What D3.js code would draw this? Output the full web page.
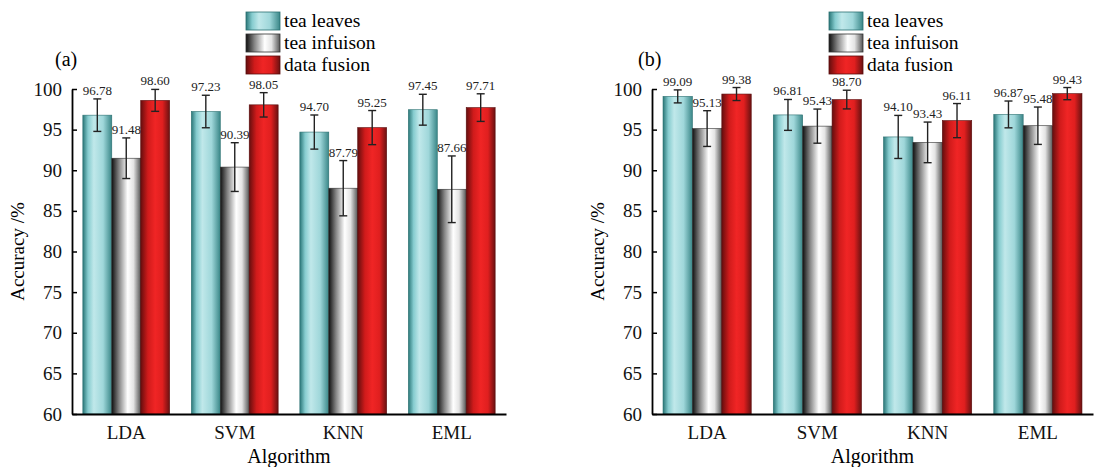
<!DOCTYPE html>
<html>
<head>
<meta charset="utf-8">
<script src="https://cdn.jsdelivr.net/npm/d3@7/dist/d3.min.js"></script>
<style>
  body { margin: 0; background: #fff; }
  svg text { font-family: 'Liberation Serif', 'DejaVu Serif', serif !important; }
</style>
</head>
<body>
<div id="chart"></div>
<script>
let algorithms = ['LDA', 'SVM', 'KNN', 'EML'];
let seriesNames = ['tea leaves', 'tea infuison', 'data fusion'];
let yTicks = [60, 65, 70, 75, 80, 85, 90, 95, 100];

// panel (a)
let aLeaves = [96.78, 97.23, 94.70, 97.45];
let aInfusion = [91.48, 90.39, 87.79, 87.66];
let aFusion = [98.60, 98.05, 95.25, 97.71];
let aLeavesErr = [2.0, 2.0, 2.1, 1.9];
let aInfusionErr = [2.5, 3.0, 3.4, 4.1];
let aFusionErr = [1.35, 1.5, 2.1, 1.7];

// panel (b)
let bLeaves = [99.09, 96.81, 94.10, 96.87];
let bInfusion = [95.13, 95.43, 93.43, 95.48];
let bFusion = [99.38, 98.70, 96.11, 99.43];
let bLeavesErr = [0.8, 1.9, 2.65, 1.65];
let bInfusionErr = [2.2, 2.1, 2.5, 2.3];
let bFusionErr = [0.8, 1.15, 2.1, 0.75];

let svg = d3.select('#chart')
  .append('svg')
  .attr('width', 1112)
  .attr('height', 467);

let defs = svg.append('defs');
let gradients = [
  { id: 'gTeal', stops: [['0%', '#2a7778'], ['18%', '#86cccf'], ['38%', '#c0e8ea'], ['70%', '#9fd7da'], ['100%', '#3a8788']] },
  { id: 'gGray', stops: [['0%', '#101010'], ['25%', '#858585'], ['55%', '#ffffff'], ['75%', '#e4e4e4'], ['100%', '#555']] },
  { id: 'gRed', stops: [['0%', '#650e0e'], ['25%', '#d01b1b'], ['50%', '#f02525'], ['75%', '#e01f1f'], ['100%', '#6a1111']] }
];
gradients.forEach(g => {
  let lg = defs.append('linearGradient')
    .attr('id', g.id)
    .attr('x1', '0%').attr('x2', '100%')
    .attr('y1', '0%').attr('y2', '0%');
  lg.selectAll('stop')
    .data(g.stops)
    .enter()
    .append('stop')
    .attr('offset', d => d[0])
    .attr('stop-color', d => d[1]);
});
let fills = ['url(#gTeal)', 'url(#gGray)', 'url(#gRed)'];
let edges = ['#2a6f70', '#333', '#5a0c0c'];

function drawPanel(p) {
  let x = d3.scaleBand()
    .domain(algorithms)
    .range([p.left, p.right])
    .paddingInner(0.2)
    .paddingOuter(0.1);
  let x1 = d3.scaleBand()
    .domain(d3.range(3))
    .range([0, x.bandwidth()]);
  let y = d3.scaleLinear()
    .domain([60, 100])
    .range([414, 89]);

  let g = svg.append('g');
  let rows = [];
  algorithms.forEach((a, i) => {
    p.values.forEach((s, k) => {
      rows.push({ alg: a, k: k, v: s[i], e: p.errors[k][i] });
    });
  });

  let bar = g.selectAll('g.bar')
    .data(rows)
    .enter()
    .append('g')
    .attr('transform', d => `translate(${x(d.alg) + x1(d.k)},0)`);

  bar.append('rect')
    .attr('y', d => y(d.v))
    .attr('width', x1.bandwidth())
    .attr('height', d => y(60) - y(d.v))
    .attr('fill', d => fills[d.k])
    .attr('stroke', d => edges[d.k])
    .attr('stroke-width', 0.6);

  let cx = x1.bandwidth() / 2;
  bar.append('line')
    .attr('x1', cx).attr('x2', cx)
    .attr('y1', d => y(d.v + d.e))
    .attr('y2', d => y(d.v - d.e))
    .attr('stroke', '#222')
    .attr('stroke-width', 1.4);
  [1, -1].forEach(sgn => {
    bar.append('line')
      .attr('x1', cx - 4).attr('x2', cx + 4)
      .attr('y1', d => y(d.v + sgn * d.e))
      .attr('y2', d => y(d.v + sgn * d.e))
      .attr('stroke', '#222')
      .attr('stroke-width', 1.4);
  });

  bar.append('text')
    .attr('x', cx)
    .attr('y', d => y(d.v + d.e) - 4)
    .attr('text-anchor', 'middle')
    .style('font-size', '13px')
    .attr('fill', '#222')
    .text(d => d.v.toFixed(2));

  // axes
  let yAxis = d3.axisLeft(y)
    .tickValues(yTicks)
    .tickSizeInner(-5)
    .tickSizeOuter(0)
    .tickPadding(10);
  let ya = g.append('g')
    .attr('transform', `translate(${p.left},0)`)
    .call(yAxis)
    .attr('font-family', null);
  ya.select('.domain').attr('stroke-width', 1.8);
  ya.selectAll('.tick line').attr('stroke-width', 1.5);
  ya.selectAll('text')
    .style('font-size', '19px')
    .attr('fill', '#111');

  let xAxis = d3.axisBottom(x).tickSize(0).tickPadding(12);
  let xa = g.append('g')
    .attr('transform', `translate(0,${y(60)})`)
    .call(xAxis)
    .attr('font-family', null);
  xa.select('.domain').attr('stroke-width', 1.8);
  xa.selectAll('text')
    .style('font-size', '19px')
    .attr('fill', '#111');

  g.append('text')
    .attr('x', (p.left + p.right) / 2)
    .attr('y', 463)
    .attr('text-anchor', 'middle')
    .style('font-size', '20px')
    .text('Algorithm');

  g.append('text')
    .attr('transform', `translate(${p.left - 48},${y(80)}) rotate(-90)`)
    .attr('text-anchor', 'middle')
    .style('font-size', '19px')
    .text('Accuracy /%');

  g.append('text')
    .attr('x', p.tagX)
    .attr('y', 66)
    .style('font-size', '20px')
    .text(p.tag);

  // legend
  let leg = g.append('g')
    .attr('transform', `translate(${p.legX},12)`);
  let item = leg.selectAll('g')
    .data(seriesNames)
    .enter()
    .append('g')
    .attr('transform', (d, i) => `translate(0,${i * 22})`);
  item.append('rect')
    .attr('width', 34)
    .attr('height', 18)
    .attr('fill', (d, i) => fills[i])
    .attr('stroke', (d, i) => edges[i])
    .attr('stroke-width', 0.8);
  item.append('text')
    .attr('x', 38)
    .attr('y', 15)
    .style('font-size', '19.5px')
    .text(d => d);
}

drawPanel({
  left: 72, right: 506, tag: '(a)', tagX: 55, legX: 246,
  values: [aLeaves, aInfusion, aFusion],
  errors: [aLeavesErr, aInfusionErr, aFusionErr]
});
drawPanel({
  left: 652, right: 1093, tag: '(b)', tagX: 638, legX: 829,
  values: [bLeaves, bInfusion, bFusion],
  errors: [bLeavesErr, bInfusionErr, bFusionErr]
});
</script>
</body>
</html>
